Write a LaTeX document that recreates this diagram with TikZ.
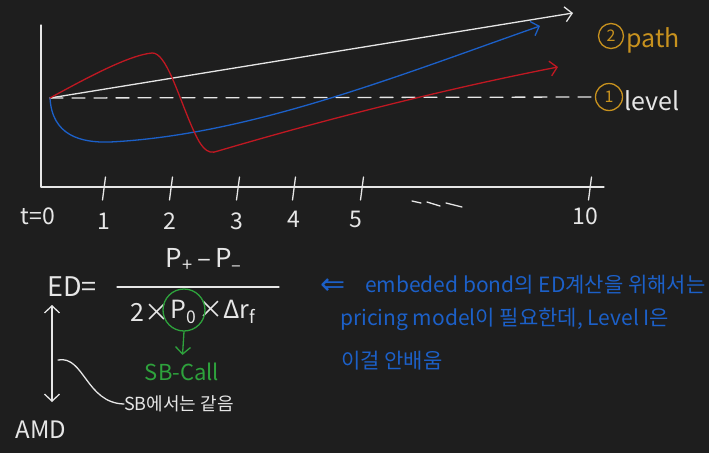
\documentclass[tikz,border=0pt]{standalone}
\usepackage{fontspec}
\setmainfont{Noto Sans CJK KR}
\newfontfamily\symfont{DejaVu Sans}
\usetikzlibrary{arrows.meta,calc}
\definecolor{bg}{HTML}{1E1E1E}
\definecolor{pen}{HTML}{E6E6E6}
\definecolor{penred}{HTML}{C01822}
\definecolor{penblue}{HTML}{1C60C8}
\definecolor{pengold}{HTML}{C8921E}
\definecolor{pengreen}{HTML}{2EA23C}
\tikzset{
  stroke/.style={line width=1.3pt, line cap=round, line join=round},
  tipend/.style={-{Straight Barb[length=7pt,width=15pt,line width=1.3pt]}},
  tipboth/.style={{Straight Barb[length=7pt,width=15pt,line width=1.3pt]}-{Straight Barb[length=7pt,width=15pt,line width=1.3pt]}},
  lab/.style={text=pen, inner sep=0pt},
  fs/.style={font=\fontsize{#1}{#1}\selectfont},
}
\begin{document}
\begin{tikzpicture}[x=1pt,y=-1pt]
\useasboundingbox (0,0) rectangle (709,453);
\fill[bg] (0,0) rectangle (709,453);

% axes
\draw[pen, stroke] (41,25) -- (41,187) -- (604,187);
\foreach \x in {104,171,238,294,362,590}
  \draw[pen, stroke] (\x+1.5,177) -- (\x-1.5,200);

% tick labels
\node[lab, fs=23] (t0) at (38,216) {t=0};
\node[lab, fs=23] (t1) at (104,221) {1};
\node[lab, fs=23] (t2) at (170,221) {2};
\node[lab, fs=23] (t3) at (237,221) {3};
\node[lab, fs=23] (t4) at (294,219) {4};
\node[lab, fs=23] (t5) at (356,219) {5};
\node[lab, fs=23] (t10) at (585,216) {10};
\draw[pen, stroke] (412,201) -- (421,203);
\draw[pen, stroke] (427,202) -- (440,206);
\draw[pen, stroke] (446,203) -- (462,207);

% legend
\node[circle, draw=pengold, line width=1.3pt, minimum size=25pt, inner sep=0pt, text=pengold, fs=16] (c2) at (611,36) {2};
\node[anchor=base west, inner sep=0pt, text=pengold, fs=25] (lpath) at ([xshift=2pt]c2.east |- 0,47) {path};
\node[circle, draw=pengold, line width=1.3pt, minimum size=27pt, inner sep=0pt, text=pengold, fs=16] (c1) at (609,97) {1};
\node[anchor=base west, inner sep=0pt, text=pen, fs=25] (llevel) at ([xshift=1pt]c1.east |- 0,110) {level};

% lines
\coordinate (o) at (50,98);
\draw[pen, stroke, dash pattern=on 13pt off 9pt] (o) -- (c1.west);
\draw[pen, stroke, tipend] (o) -- (573,13);
\draw[penblue, stroke, tipend] (o) .. controls (52,135) and (80,143) .. (110,142)
  .. controls (250,135) and (400,75) .. (540,26);
\draw[penred, stroke, tipend] (o) .. controls (90,76) and (130,55) .. (152,53)
  .. controls (166,52) and (178,95) .. (192,127)
  .. controls (200,145) and (206,156) .. (218,151)
  .. controls (330,118) and (450,88) .. (558,67);

% formula
\node[lab, fs=27] (ed) at (72,287) {ED=};
\draw[pen, stroke] (117,287) -- (279,287);
\node[lab, fs=26] (num) at (204,260) {P\textsubscript{+}\,–\,P\textsubscript{–}};
\node[lab, fs=25] (p0) at (184,312) {P\textsubscript{0}};
\node[lab, fs=25, anchor=east] (den1) at ([xshift=-1pt]p0.west) {2×};
\node[lab, fs=25, anchor=west] (den2) at ([xshift=1pt]p0.east) {×Δr\textsubscript{f}};
\node[circle, draw=pengreen, line width=1.3pt, minimum size=42pt, inner sep=0pt] (ring) at (184,310) {};
\node[inner sep=0pt, text=pengreen, fs=22] (sbcall) at (182,372) {SB-Call};
\draw[pengreen, stroke, tipend, shorten >=8pt] (ring.south) -- (sbcall.north);

% AMD
\node[lab, fs=24] (amd) at (41,430) {AMD};
\coordinate (ut) at (52,305);
\coordinate (ub) at (52,402);
\draw[pen, stroke, tipboth] (ut) -- (ub);
\node[lab, fs=18, anchor=west] (same) at (124,404) {SB에서는 같음};
\coordinate (bend) at (58,360);
\draw[pen, stroke] (bend) .. controls (84,355) and (86,403) .. (same.west);

% blue note
\node[inner sep=0pt, text=penblue, font=\symfont\fontsize{30}{30}\selectfont] (larrow) at (333,287) {⇐};
\node[inner sep=0pt, text=penblue, fs=21, anchor=base west] (n1) at (365,292) {embeded bond의 ED계산을 위해서는};
\node[inner sep=0pt, text=penblue, fs=21, anchor=base west] (n2) at (340,325) {pricing model이 필요한데, Level I은};
\node[inner sep=0pt, text=penblue, fs=21, anchor=base west] (n3) at (341,368) {이걸 안배움};
\end{tikzpicture}
\end{document}
